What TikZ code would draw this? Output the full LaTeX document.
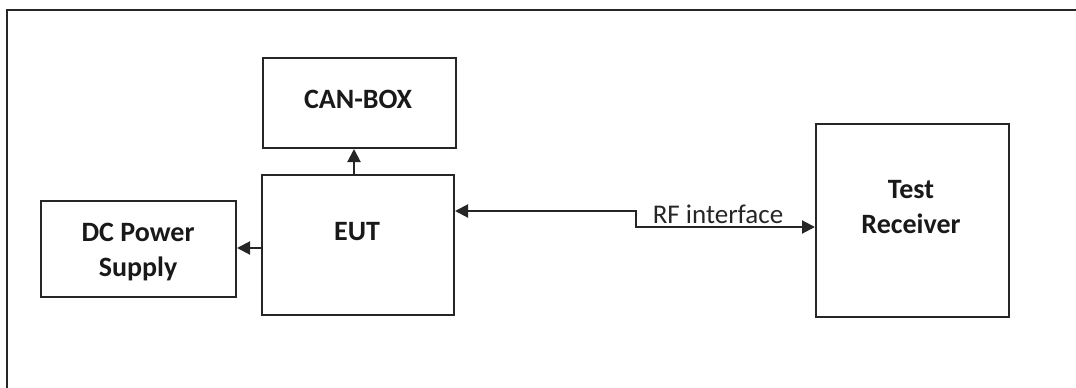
\documentclass[tikz,border=0pt]{standalone}
\usepackage{fontspec}
\setmainfont{Carlito}
\usetikzlibrary{arrows.meta}
\begin{document}
\begin{tikzpicture}[x=1pt,y=-1pt,
  box/.style={draw=black!85,line width=2pt,rectangle,inner sep=0pt},
  lbl/.style={anchor=base,align=center,inner sep=0pt,font=\fontsize{28}{35}\selectfont\bfseries,text=black!90},
  tip/.style={Triangle[length=13pt,width=13pt]},
  conn/.style={draw=black!85,line width=2pt,-{Triangle[length=13pt,width=13pt]}},
  conn2/.style={draw=black!85,line width=2pt,{Triangle[length=13pt,width=13pt]}-{Triangle[length=13pt,width=13pt]}}]
\useasboundingbox (0,0) rectangle (1076,388);
\clip (0,0) rectangle (1076,388);
% outer frame
\coordinate (fbl) at (6.5,390);
\coordinate (ftl) at (6.5,10);
\coordinate (ftr) at (1078,10);
\draw[black!85,line width=2pt] (fbl) -- (ftl) -- (ftr);
% boxes
\node[box,minimum width=193,minimum height=90] (can) at (359.5,103) {};
\node[box,minimum width=192,minimum height=140] (eut) at (358,245) {};
\node[box,minimum width=195,minimum height=96] (dc) at (138.5,249) {};
\node[box,minimum width=193,minimum height=193] (rx) at (912.5,220.5) {};
% labels
\node[lbl] (cant) at (358,108) {CAN-BOX};
\node[lbl] (eutt) at (357,240) {EUT};
\node[lbl] (dct) at (138,276) {DC Power\\Supply};
\node[lbl] (rxt) at (911,233) {Test\\Receiver};
% connectors
\coordinate (ux) at (354,0);
\coordinate (ly) at (0,248);
\draw[conn] (eut.north -| ux) -- (can.south -| ux);
\draw[conn] (eut.west |- ly) -- (dc.east |- ly);
\coordinate (k1) at (636,211);
\coordinate (k2) at (636,227);
\draw[conn2] (eut.east |- k1) -- (k1) -- (k2) -- (rx.west |- k2);
\node[anchor=base,inner sep=0pt,font=\fontsize{27}{32}\selectfont,text=black!85] (rf) at (718,223) {RF interface};
\end{tikzpicture}
\end{document}
